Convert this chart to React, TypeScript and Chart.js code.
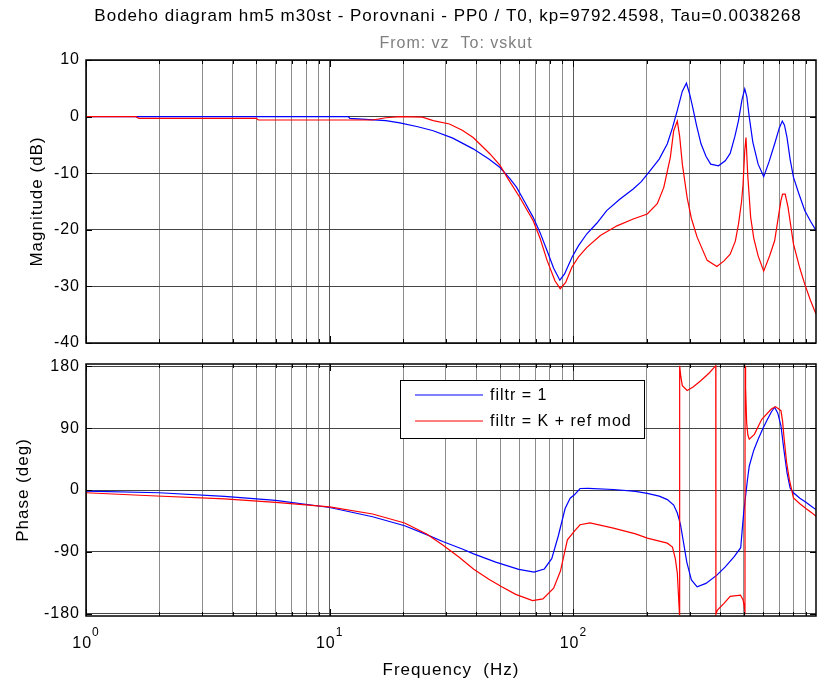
import { useEffect, useRef } from 'react';
import { Chart, registerables } from 'chart.js';

Chart.register(...registerables);

const FONT_FAMILY = '"Liberation Sans", Arial, Helvetica, sans-serif';

// ---- texts ----
const TITLE = 'Bodeho diagram hm5 m30st - Porovnani - PP0 / T0, kp=9792.4598, Tau=0.0038268';
const SUBTITLE = 'From: vz  To: vskut';
const MAG_LABEL = 'Magnitude (dB)';
const PHASE_LABEL = 'Phase (deg)';
const FREQ_LABEL = 'Frequency  (Hz)';
const SERIES_NAMES = ['filtr = 1', 'filtr = K + ref mod'];
const SERIES_COLORS = ['#0000ff', '#ff0000'];

// ---- axes ----
const X_MIN = 1;
const X_MAX = 990;
const X_GRID = [1, 2, 3, 4, 5, 6, 7, 8, 9, 10, 20, 30, 40, 50, 60, 70, 80, 90, 100, 200, 300, 400, 500, 600, 700, 800, 900];
const X_LABEL_EXPONENTS = [0, 1, 2];
const MAG_MIN = -40;
const MAG_MAX = 10;
const MAG_TICKS = [-40, -30, -20, -10, 0, 10];
const PHASE_MIN = -183.5;
const PHASE_MAX = 183.5;
const PHASE_TICKS = [-180, -90, 0, 90, 180];

// ---- data: magnitude (dB) ----
const magFreqBlue = [1, 5, 11.9, 12.1, 17, 19.4, 23, 26.6, 32, 38.8, 45, 50, 55, 58.5, 63, 68.4, 73, 78, 83, 88, 92, 98.6, 105, 113.6, 125, 137, 155, 176, 190, 207, 225, 243, 255, 267, 280, 291, 300, 309, 320, 334, 350, 366, 394, 420, 440, 460, 476, 492, 505, 515, 527, 545, 573, 604, 635, 670, 700, 720, 735, 753, 775, 800, 840, 890, 940, 990];
const magBlue = [0, 0, 0, -0.3, -0.7, -1.1, -1.8, -2.5, -3.8, -5.7, -7.5, -9, -11, -12.5, -15, -17.8, -20.5, -23.7, -26.8, -28.9, -27.8, -24.9, -22.8, -20.7, -18.8, -16.6, -14.6, -12.8, -11.5, -9.5, -7.5, -4.8, -2, 1.1, 4.5, 5.9, 4, 1.6, -1.5, -4.8, -7, -8.4, -8.7, -7.8, -6.5, -3.5, -0.7, 3, 4.9, 3.5, -0.1, -4.5, -8.4, -10.6, -8, -4.8, -2, -0.8, -1.5, -3.7, -7.5, -10.7, -13.5, -16.6, -18.5, -20.1];

const magFreqRed = [1, 1.6, 1.65, 5, 5.1, 15, 17, 19.4, 24, 26.6, 31, 35, 38.8, 45.5, 50, 53.4, 60.3, 68.4, 73, 78, 84, 88.3, 93, 98.6, 105, 113.6, 129, 151, 176, 201, 221, 235, 250, 258, 267, 273, 280, 293, 305, 322, 354, 388, 415, 440, 462, 476, 490, 497, 505, 511, 519, 534, 550, 573, 604, 640, 670, 695, 711, 722, 740, 760, 800, 850, 890, 940, 990];
const magRed = [0, 0, -0.3, -0.3, -0.6, -0.6, -0.2, 0, -0.1, -0.7, -1.3, -2.4, -3.7, -6.6, -8.6, -10.7, -14.3, -18.4, -21.5, -25.4, -29, -30.4, -29.3, -26.6, -24.8, -23.1, -21, -19.3, -18.1, -17.2, -15.4, -12.5, -7.2, -2.5, -0.8, -3.5, -8.4, -14.3, -18, -21.3, -25.4, -26.5, -25.5, -24.3, -22, -19, -15, -11.9, -6, -3.7, -10.1, -17.8, -21.5, -24.6, -27.3, -24.5, -21.9, -17.5, -14.8, -13.7, -13.7, -16, -22.5, -26.8, -29.6, -32.5, -34.9];

// ---- data: phase (deg) ----
const phFreqBlue = [1, 2, 3.7, 6, 10, 15, 20.3, 25, 29.1, 35, 39, 48, 59.7, 69, 76, 81.5, 86.7, 92.5, 97, 101, 106.5, 115, 146, 180, 201, 225, 243, 258, 267, 275, 282, 292, 305, 322, 350, 388, 420, 457, 486, 500, 518, 527, 550, 573, 600, 626, 650, 670, 690, 711, 730, 753, 775, 800, 850, 900, 950, 990];
const phBlue = [-1.5, -4, -9.4, -15, -25.5, -39, -52, -65, -75, -86, -93, -105, -115.5, -119.5, -115, -100, -67, -27, -12, -7, 2.2, 2.5, 0.7, -2, -5, -9, -14, -22, -33.5, -50, -72.6, -105, -131, -141, -136, -124, -112, -97, -84, -33, 15, 35, 58, 74, 90, 103, 114, 120.5, 112, 93.5, 60, 25, 3, -4, -12, -18, -24, -28.6];

const phFreqRed = [1, 1.75, 3.7, 6, 10, 15, 20.3, 25, 29.1, 34, 39, 45, 50.8, 58, 68, 75, 83, 88.5, 94.5, 101, 106.5, 117, 146, 180, 201, 243, 255, 262, 267, 272.5, 273, 276, 280, 293, 310, 334, 360, 384, 384.5, 390, 415, 440, 485, 497, 503, 506, 506.5, 509, 514, 520, 527, 553, 593, 649, 675, 711, 722, 733, 750, 770, 800, 850, 900, 950, 990];
const phRed = [-4, -8, -13, -18, -24.5, -35, -48, -64, -80, -98, -115.5, -130, -141, -152, -161, -158.5, -143, -118, -72.6, -60, -50.6, -48, -55.5, -64, -70, -77.4, -83, -100, -121, -181, 181, 165, 152, 145, 150, 159.5, 170, 181, -181, -175, -165, -155, -153, -160, -170, -181, 181, 150, 98.5, 80, 74, 81, 103, 118, 121.4, 115.5, 100, 74, 40, 15, -11.4, -20, -27, -33, -38.4];

const toPoints = (xs: number[], ys: number[]) => xs.map((x, i) => ({ x, y: ys[i] }));

const isDecade = (v: number) => Math.abs(Math.log10(v) - Math.round(Math.log10(v))) < 1e-9;

const LETTER_SPACING = '1px';

const matlabPlugin = {
  id: 'matlab',
  beforeDraw(chart: any) {
    chart.ctx.letterSpacing = LETTER_SPACING;
  },
  afterDraw(chart: any, _args: any, opts: any) {
    const { ctx, chartArea: a, scales } = chart;
    const xs = scales.x;
    const ys = scales.y;
    ctx.save();
    ctx.letterSpacing = LETTER_SPACING;
    // inward tick marks
    ctx.strokeStyle = '#000';
    ctx.lineWidth = 1;
    ctx.beginPath();
    for (const t of xs.ticks) {
      const px = Math.round(xs.getPixelForValue(t.value)) + 0.5;
      const len = isDecade(t.value) ? 7 : 4;
      ctx.moveTo(px, a.top);
      ctx.lineTo(px, a.top + len);
      ctx.moveTo(px, a.bottom);
      ctx.lineTo(px, a.bottom - len);
    }
    for (const t of ys.ticks) {
      const py = Math.round(ys.getPixelForValue(t.value)) + 0.5;
      ctx.moveTo(a.left, py);
      ctx.lineTo(a.left + 6, py);
      ctx.moveTo(a.right, py);
      ctx.lineTo(a.right - 6, py);
    }
    ctx.stroke();
    // frame
    ctx.lineWidth = 1.5;
    ctx.strokeRect(a.left, a.top, a.right - a.left, a.bottom - a.top);

    // title & subtitle
    if (opts.title) {
      ctx.fillStyle = '#000';
      ctx.textAlign = 'center';
      ctx.textBaseline = 'alphabetic';
      ctx.font = `17px ${FONT_FAMILY}`;
      ctx.fillText(TITLE, 448, 21);
      ctx.fillStyle = '#7f7f7f';
      ctx.font = `16px ${FONT_FAMILY}`;
      ctx.fillText(SUBTITLE, 456, 48);
    }

    // x tick labels as 10^n
    if (opts.xLabels) {
      ctx.fillStyle = '#000';
      ctx.textBaseline = 'alphabetic';
      ctx.textAlign = 'left';
      for (const e of X_LABEL_EXPONENTS) {
        const px = xs.getPixelForValue(Math.pow(10, e));
        ctx.font = `16px ${FONT_FAMILY}`;
        const wBase = ctx.measureText('10').width;
        ctx.font = `12px ${FONT_FAMILY}`;
        const wExp = ctx.measureText(String(e)).width;
        const start = px - (wBase + wExp) / 2;
        ctx.font = `16px ${FONT_FAMILY}`;
        ctx.fillText('10', start, a.bottom + 32);
        ctx.font = `12px ${FONT_FAMILY}`;
        ctx.fillText(String(e), start + wBase, a.bottom + 20);
      }
    }

    // legend
    if (opts.legend) {
      const lx = 400.5, ly = 30.5, lw = 244, lh = 58;
      ctx.fillStyle = '#fff';
      ctx.fillRect(lx, ly, lw, lh);
      ctx.strokeStyle = '#000';
      ctx.lineWidth = 1;
      ctx.strokeRect(lx, ly, lw, lh);
      const rows = [ly + 14.5, ly + 40.5];
      chart.data.datasets.forEach((ds: any, i: number) => {
        const yy = rows[i];
        ctx.strokeStyle = ds.borderColor;
        ctx.lineWidth = 1;
        ctx.beginPath();
        ctx.moveTo(415, yy);
        ctx.lineTo(483, yy);
        ctx.stroke();
        ctx.fillStyle = '#000';
        ctx.font = `16px ${FONT_FAMILY}`;
        ctx.textAlign = 'left';
        ctx.textBaseline = 'middle';
        ctx.fillText(ds.label, 490, yy + 1);
      });
    }
    ctx.restore();
  },
};

function xScale(showTitle: boolean, height: number) {
  return {
    type: 'logarithmic',
    min: X_MIN,
    max: X_MAX,
    afterBuildTicks: (s: any) => {
      s.ticks = X_GRID.map((v) => ({ value: v }));
    },
    afterFit: (s: any) => {
      s.height = height;
      s.paddingLeft = 0;
      s.paddingRight = 0;
    },
    ticks: { display: false },
    grid: {
      drawTicks: false,
      lineWidth: 1,
      color: (c: any) => (c.tick && isDecade(c.tick.value) ? '#5a5a5a' : '#8c8c8c'),
    },
    border: { display: false },
    title: {
      display: showTitle,
      text: FREQ_LABEL,
      color: '#000',
      font: { family: FONT_FAMILY, size: 17 },
      padding: { top: 0, bottom: 3 },
    },
  };
}

function yScale(min: number, max: number, ticks: number[], label: string, titlePad: number) {
  return {
    type: 'linear',
    min,
    max,
    afterBuildTicks: (s: any) => {
      s.ticks = ticks.map((v) => ({ value: v }));
    },
    afterFit: (s: any) => {
      s.width = 86;
      s.paddingTop = 0;
      s.paddingBottom = 0;
    },
    ticks: {
      color: '#000',
      padding: 6,
      font: { family: FONT_FAMILY, size: 16 },
      callback: (v: any) => String(v),
    },
    grid: { drawTicks: false, color: '#444444', lineWidth: 1 },
    border: { display: false },
    title: {
      display: true,
      text: label,
      color: '#000',
      font: { family: FONT_FAMILY, size: 17 },
      padding: { top: titlePad, bottom: 0 },
    },
  };
}

function lineDataset(label: string, color: string, data: { x: number; y: number }[], order: number) {
  return {
    label,
    data,
    borderColor: color,
    backgroundColor: color,
    borderWidth: 1.2,
    pointRadius: 0,
    tension: 0,
    fill: false,
    order,
  };
}

function magConfig(): any {
  return {
    type: 'line',
    data: {
      datasets: [
        lineDataset(SERIES_NAMES[0], SERIES_COLORS[0], toPoints(magFreqBlue, magBlue), 1),
        lineDataset(SERIES_NAMES[1], SERIES_COLORS[1], toPoints(magFreqRed, magRed), 0),
      ],
    },
    options: {
      responsive: false,
      maintainAspectRatio: false,
      animation: false,
      events: [],
      layout: { padding: { left: 0, top: 60, right: 3, bottom: 7 } },
      scales: {
        x: xScale(false, 0),
        y: yScale(MAG_MIN, MAG_MAX, MAG_TICKS, MAG_LABEL, 27),
      },
      plugins: {
        legend: { display: false },
        tooltip: { enabled: false },
        matlab: { title: true },
      },
    },
    plugins: [matlabPlugin],
  };
}

function phaseConfig(): any {
  return {
    type: 'line',
    data: {
      datasets: [
        lineDataset(SERIES_NAMES[0], SERIES_COLORS[0], toPoints(phFreqBlue, phBlue), 1),
        lineDataset(SERIES_NAMES[1], SERIES_COLORS[1], toPoints(phFreqRed, phRed), 0),
      ],
    },
    options: {
      responsive: false,
      maintainAspectRatio: false,
      animation: false,
      events: [],
      layout: { padding: { left: 0, top: 14, right: 3, bottom: 0 } },
      scales: {
        x: xScale(true, 68),
        y: yScale(PHASE_MIN, PHASE_MAX, PHASE_TICKS, PHASE_LABEL, 13),
      },
      plugins: {
        legend: { display: false },
        tooltip: { enabled: false },
        matlab: { xLabels: true, legend: true },
      },
    },
    plugins: [matlabPlugin],
  };
}

export default function App() {
  const magRef = useRef<HTMLCanvasElement>(null);
  const phRef = useRef<HTMLCanvasElement>(null);

  useEffect(() => {
    const c1 = new Chart(magRef.current as HTMLCanvasElement, magConfig());
    const c2 = new Chart(phRef.current as HTMLCanvasElement, phaseConfig());
    return () => {
      c1.destroy();
      c2.destroy();
    };
  }, []);

  return (
    <div
      style={{
        position: 'absolute',
        left: 0,
        top: 0,
        width: 819,
        height: 684,
        background: '#fff',
        overflow: 'hidden',
      }}
    >
      <canvas
        ref={magRef}
        width={819}
        height={350}
        style={{ position: 'absolute', left: 0, top: 0, width: 819, height: 350 }}
      />
      <canvas
        ref={phRef}
        width={819}
        height={334}
        style={{ position: 'absolute', left: 0, top: 350, width: 819, height: 334 }}
      />
    </div>
  );
}
